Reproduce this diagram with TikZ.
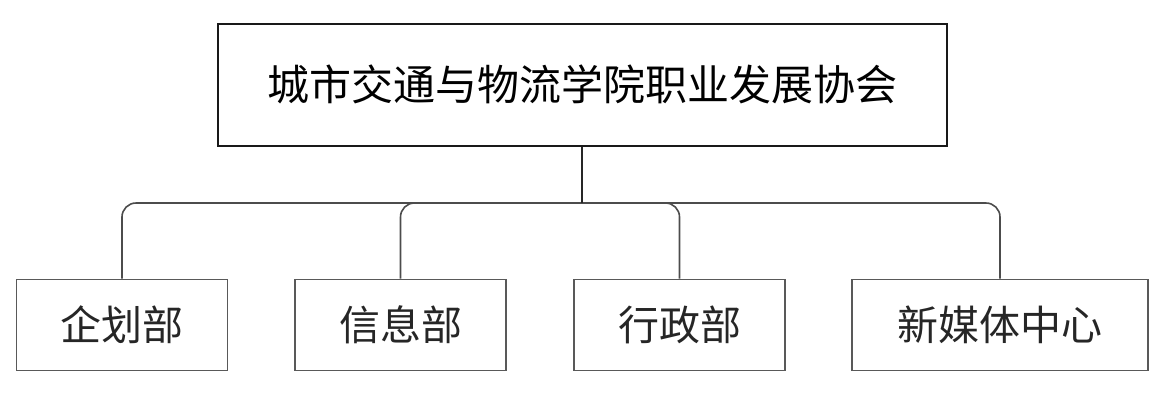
\documentclass[tikz,border=0pt]{standalone}
\usepackage{fontspec}
\newfontfamily\cjk{Noto Sans CJK SC}
\begin{document}
\begin{tikzpicture}[x=1pt,y=-1pt,
  topbox/.style={draw=black!90,line width=2pt,minimum width=729pt,minimum height=122pt,inner sep=0pt,font=\cjk\fontsize{42}{44}\selectfont,text=black},
  deptbox/.style={draw=black!65,line width=1.6pt,minimum width=211pt,minimum height=91pt,inner sep=0pt,font=\cjk\fontsize{41}{43}\selectfont,text=black!85},
  link/.style={draw=black!70,line width=1.6pt,rounded corners=14pt},
  stem/.style={draw=black!85,line width=2pt}]
\useasboundingbox (0,0) rectangle (1167,408);
\node[topbox] (top) at (582.5,84.5) {城市交通与物流学院职业发展协会};
\node[deptbox] (d1) at (122,325) {企划部};
\node[deptbox] (d2) at (400.5,325) {信息部};
\node[deptbox] (d3) at (679.5,325) {行政部};
\node[deptbox,minimum width=296pt] (d4) at (1000,325) {新媒体中心};
\coordinate (j) at (582,203);
\draw[link] (j) -| (d1.north);
\draw[link] (j) -| (d2.north);
\draw[link] (j) -| (d3.north);
\draw[link] (j) -| (d4.north);
\draw[stem] (top.south -| j) -- (j);
\end{tikzpicture}
\end{document}
